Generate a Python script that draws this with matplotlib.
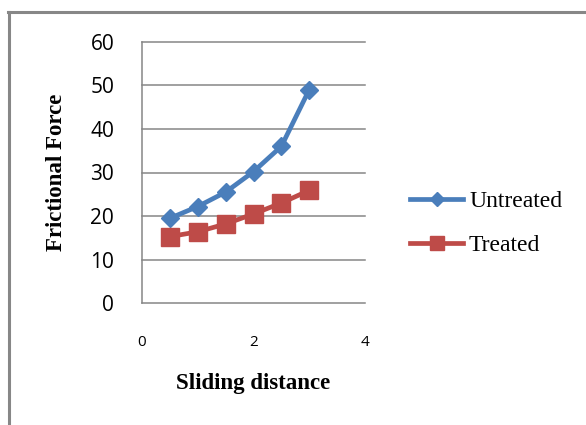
import matplotlib
matplotlib.use("Agg")
import matplotlib.pyplot as plt
from matplotlib.lines import Line2D

# Sliding distance vs. frictional force
distance = [0.5, 1.0, 1.5, 2.0, 2.5, 3.0]
untreated = [19.5, 22.2, 25.5, 30.2, 36.0, 49.0]
treated = [15.3, 16.4, 18.2, 20.5, 23.0, 25.9]
series_names = ["Untreated", "Treated"]
x_ticks = [0, 2, 4]
y_ticks = [0, 10, 20, 30, 40, 50, 60]

W, H = 586, 425
fig = plt.figure(figsize=(W / 100, H / 100), dpi=100)
fig.patch.set_facecolor("white")

def fx(px):
    return px / W

def fy(py):
    return 1 - py / H

# outer chart frame (only top and left edges are in view)
frame_color = "#878787"
fig.add_artist(Line2D([fx(9.5), fx(9.5)], [fy(11.7), fy(H + 5)],
                      transform=fig.transFigure, color=frame_color, lw=2.2))
fig.add_artist(Line2D([fx(8.4), fx(W + 5)], [fy(11.7), fy(11.7)],
                      transform=fig.transFigure, color=frame_color, lw=2.2))

left, right, top, bottom = 142, 365, 41.7, 303.3
ax = fig.add_axes([fx(left), fy(bottom), fx(right - left), (bottom - top) / H])

blue = "#4A7EBB"
red = "#BE4B48"
ax.plot(distance, untreated, color=blue, lw=3.4, marker="D", ms=9.5,
        mfc=blue, mec=blue, label=series_names[0], zorder=3)
ax.plot(distance, treated, color=red, lw=3.4, marker="s", ms=13,
        mfc=red, mec=red, label=series_names[1], zorder=3)

ax.set_xlim(0, 4)
ax.set_ylim(0, 60)
ax.set_xticks(x_ticks)
ax.set_yticks(y_ticks)

grid_color = "#868686"
ax.grid(axis="y", color=grid_color, lw=1.1)
ax.set_axisbelow(True)
for side in ["top", "right", "bottom"]:
    ax.spines[side].set_visible(False)
ax.spines["left"].set_color(grid_color)
ax.spines["left"].set_linewidth(1.1)
for gl in ax.get_ygridlines():
    gl.set_clip_on(False)

ax.tick_params(axis="both", length=0)
ax.tick_params(axis="y", pad=20, labelsize=15)
ax.tick_params(axis="x", pad=23, labelsize=11)
for lab in ax.get_yticklabels() + ax.get_xticklabels():
    lab.set_family(["Open Sans", "DejaVu Sans"])
    lab.set_color("black")

serif = ["Liberation Serif", "DejaVu Serif"]
fig.text(fx(56), fy(172.5), "Frictional Force", rotation=90, ha="center",
         va="center", family=serif, weight="bold", fontsize=16.5)
fig.text(fx(253), fy(384), "Sliding distance", ha="center", va="center",
         family=serif, weight="bold", fontsize=16.5)

leg = ax.legend(loc="center left", bbox_to_anchor=(fx(410), fy(223.5)),
                bbox_transform=fig.transFigure, frameon=False,
                prop={"family": serif, "size": 17},
                handlelength=2.25, handletextpad=0.25, labelspacing=0.95,
                markerscale=0.75, borderpad=0, borderaxespad=0)

fig.savefig("out.png", dpi=100, facecolor="white")
